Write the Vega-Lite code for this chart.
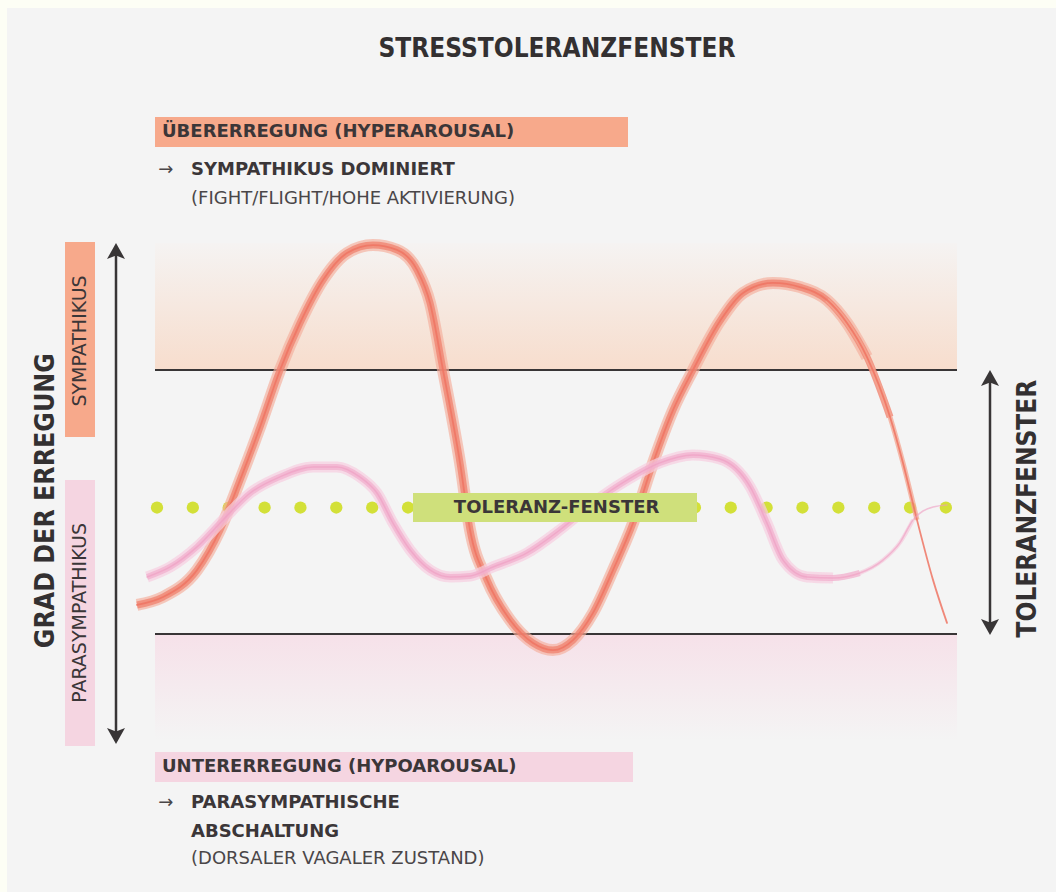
{
  "$schema": "https://vega.github.io/schema/vega-lite/v6.json",
  "width": 1056,
  "height": 892,
  "padding": 0,
  "autosize": {"type": "fit", "contains": "padding"},
  "background": "#fdfef5",
  "config": {"view": {"stroke": null}},
  "datasets": {
    "sympathikus": [
      {"t": -2.25, "a": 11.0}, {"t": 1.0, "a": 14.0}, {"t": 5.25, "a": 24.2}, {"t": 8.13, "a": 39.4},
      {"t": 10.63, "a": 58.3}, {"t": 13.13, "a": 78.4}, {"t": 15.63, "a": 100.0}, {"t": 18.13, "a": 117.8},
      {"t": 21.0, "a": 134.1}, {"t": 24.0, "a": 144.3}, {"t": 27.25, "a": 147.3}, {"t": 30.25, "a": 145.5},
      {"t": 32.75, "a": 137.9}, {"t": 34.38, "a": 125.4}, {"t": 36.0, "a": 100.0}, {"t": 38.13, "a": 64.8},
      {"t": 39.38, "a": 39.4}, {"t": 41.5, "a": 20.5}, {"t": 44.38, "a": 5.3}, {"t": 47.25, "a": -3.4},
      {"t": 49.75, "a": -6.1}, {"t": 52.25, "a": -2.3}, {"t": 54.75, "a": 8.0}, {"t": 57.25, "a": 24.2},
      {"t": 59.75, "a": 42.0}, {"t": 62.25, "a": 64.8}, {"t": 64.75, "a": 84.8}, {"t": 67.25, "a": 100.0},
      {"t": 70.63, "a": 118.6}, {"t": 73.5, "a": 129.2}, {"t": 77.25, "a": 133.0}, {"t": 80.63, "a": 131.4},
      {"t": 84.0, "a": 126.5}, {"t": 86.5, "a": 117.8}, {"t": 89.0, "a": 104.9}, {"t": 91.88, "a": 82.2},
      {"t": 93.5, "a": 64.8}, {"t": 95.25, "a": 43.2}, {"t": 97.25, "a": 20.5}, {"t": 99.0, "a": 4.2}
    ],
    "parasympathikus": [
      {"t": -1.0, "a": 21.6}, {"t": 1.9, "a": 25.4}, {"t": 5.25, "a": 33.0}, {"t": 8.5, "a": 43.2},
      {"t": 11.9, "a": 53.4}, {"t": 15.6, "a": 59.5}, {"t": 19.75, "a": 63.3}, {"t": 22.75, "a": 63.3},
      {"t": 25.6, "a": 59.5}, {"t": 27.75, "a": 53.4}, {"t": 29.75, "a": 42.0}, {"t": 31.9, "a": 31.8},
      {"t": 34.4, "a": 24.2}, {"t": 36.9, "a": 21.6}, {"t": 39.4, "a": 22.0}, {"t": 42.25, "a": 25.4},
      {"t": 46.5, "a": 30.7}, {"t": 50.6, "a": 39.4}, {"t": 54.75, "a": 49.6}, {"t": 59.0, "a": 58.3},
      {"t": 63.1, "a": 64.8}, {"t": 67.25, "a": 67.8}, {"t": 70.6, "a": 66.3}, {"t": 74.4, "a": 55.7},
      {"t": 76.5, "a": 42.0}, {"t": 78.5, "a": 28.0}, {"t": 81.5, "a": 21.6}, {"t": 84.75, "a": 21.2},
      {"t": 88.1, "a": 23.1}, {"t": 91.0, "a": 28.0}, {"t": 93.1, "a": 34.5}, {"t": 94.75, "a": 43.2},
      {"t": 97.25, "a": 48.1}, {"t": 99.0, "a": 48.9}
    ],
    "punkte": [
      {"t": 0.25, "a": 47.9}, {"t": 4.73, "a": 47.9}, {"t": 9.22, "a": 47.9}, {"t": 13.7, "a": 47.9},
      {"t": 18.18, "a": 47.9}, {"t": 22.66, "a": 47.9}, {"t": 27.15, "a": 47.9}, {"t": 31.63, "a": 47.9},
      {"t": 36.11, "a": 47.9}, {"t": 40.59, "a": 47.9}, {"t": 45.08, "a": 47.9}, {"t": 49.56, "a": 47.9},
      {"t": 54.04, "a": 47.9}, {"t": 58.52, "a": 47.9}, {"t": 63.0, "a": 47.9}, {"t": 67.49, "a": 47.9},
      {"t": 71.97, "a": 47.9}, {"t": 76.45, "a": 47.9}, {"t": 80.93, "a": 47.9}, {"t": 85.42, "a": 47.9},
      {"t": 89.9, "a": 47.9}, {"t": 94.38, "a": 47.9}, {"t": 98.86, "a": 47.9}
    ]
  },
  "encoding": {
    "x": {"field": "t", "type": "quantitative", "scale": {"domain": [-19.375, 112.625], "nice": false, "zero": false}, "axis": null},
    "y": {"field": "a", "type": "quantitative", "scale": {"domain": [-97.73, 240.15], "nice": false, "zero": false}, "axis": null}
  },
  "layer": [
    {
      "data": {"values": [{"t": -18.5, "t2": 112.625, "a": 237.1, "a2": -97.73}]},
      "mark": {"type": "rect", "fill": "#f4f4f4"},
      "encoding": {"x2": {"field": "t2"}, "y2": {"field": "a2"}}
    },
    {
      "data": {"values": [{"t": 0, "t2": 100.25, "a": 148.1, "a2": 100}]},
      "mark": {"type": "rect", "fill": {"gradient": "linear", "x1": 0, "y1": 0, "x2": 0, "y2": 1, "stops": [{"offset": 0, "color": "#f5f3f2"}, {"offset": 1, "color": "#f7ddcd"}]}},
      "encoding": {"x2": {"field": "t2"}, "y2": {"field": "a2"}}
    },
    {
      "data": {"values": [{"t": 0, "t2": 100.25, "a": 0, "a2": -40.2}]},
      "mark": {"type": "rect", "fill": {"gradient": "linear", "x1": 0, "y1": 0, "x2": 0, "y2": 1, "stops": [{"offset": 0, "color": "#f6e1e9"}, {"offset": 1, "color": "#f4f4f4"}]}},
      "encoding": {"x2": {"field": "t2"}, "y2": {"field": "a2"}}
    },
    {
      "data": {"values": [{"t": 0, "t2": 100.25, "a": 100}, {"t": 0, "t2": 100.25, "a": 0}]},
      "mark": {"type": "rule", "color": "#383536", "strokeWidth": 2},
      "encoding": {"x2": {"field": "t2"}}
    },
    {
      "data": {"values": [{"t": -4.875, "a": 146.5, "a2": -40.5}, {"t": 104.375, "a": 98.0, "a2": 1.0}]},
      "mark": {"type": "rule", "color": "#383536", "strokeWidth": 2.5},
      "encoding": {"y2": {"field": "a2"}}
    },
    {
      "data": {"values": [{"t": -4.875, "a": 144.3}, {"t": 104.375, "a": 96.2}]},
      "mark": {"type": "point", "filled": true, "opacity": 1, "color": "#383536", "size": 400, "shape": "M0,-1 L0.9,0.6 L0,0.25 L-0.9,0.6 Z"},
      "encoding": {}
    },
    {
      "data": {"values": [{"t": -4.875, "a": -37.9}, {"t": 104.375, "a": 3.4}]},
      "mark": {"type": "point", "filled": true, "opacity": 1, "color": "#383536", "size": 400, "shape": "M0,1 L0.9,-0.6 L0,-0.25 L-0.9,-0.6 Z"},
      "encoding": {}
    },
    {
      "data": {"name": "punkte"},
      "mark": {"type": "circle", "color": "#d3e038", "opacity": 1, "size": 150},
      "encoding": {}
    },
    {
      "data": {"name": "sympathikus"},
      "transform": [{"filter": "datum.t <= 89.0"}],
      "mark": {"type": "line", "interpolate": "monotone", "color": "#f5ad9b", "strokeWidth": 12, "opacity": 0.65, "strokeCap": "butt"},
      "encoding": {}
    },
    {
      "data": {"name": "sympathikus"},
      "transform": [{"filter": "datum.t <= 91.88"}],
      "mark": {"type": "line", "interpolate": "monotone", "color": "#f08472", "strokeWidth": 7, "opacity": 0.8, "strokeCap": "butt"},
      "encoding": {}
    },
    {
      "data": {"name": "sympathikus"},
      "transform": [{"filter": "datum.t >= 84.0 && datum.t <= 95.25"}],
      "mark": {"type": "line", "interpolate": "monotone", "color": "#f4a592", "strokeWidth": 5, "opacity": 0.75, "strokeCap": "butt"},
      "encoding": {}
    },
    {
      "data": {"name": "sympathikus"},
      "mark": {"type": "line", "interpolate": "monotone", "color": "#ee7463", "strokeWidth": 1.8, "opacity": 0.85, "strokeCap": "round"},
      "encoding": {}
    },
    {
      "data": {"name": "parasympathikus"},
      "transform": [{"filter": "datum.t <= 84.75"}],
      "mark": {"type": "line", "interpolate": "monotone", "color": "#f7cde0", "strokeWidth": 11, "opacity": 0.7, "strokeCap": "butt"},
      "encoding": {}
    },
    {
      "data": {"name": "parasympathikus"},
      "transform": [{"filter": "datum.t <= 88.1"}],
      "mark": {"type": "line", "interpolate": "monotone", "color": "#f2afcd", "strokeWidth": 6, "opacity": 0.75, "strokeCap": "butt"},
      "encoding": {}
    },
    {
      "data": {"name": "parasympathikus"},
      "transform": [{"filter": "datum.t >= 81.5 && datum.t <= 94.75"}],
      "mark": {"type": "line", "interpolate": "monotone", "color": "#f5c3d9", "strokeWidth": 4, "opacity": 0.6, "strokeCap": "butt"},
      "encoding": {}
    },
    {
      "data": {"name": "parasympathikus"},
      "mark": {"type": "line", "interpolate": "monotone", "color": "#ee9cc2", "strokeWidth": 1.5, "opacity": 0.6, "strokeCap": "round"},
      "encoding": {}
    },
    {
      "data": {"values": [
        {"t": 0, "t2": 59.125, "a": 195.8, "a2": 184.5, "art": "hyper"},
        {"t": 0, "t2": 59.75, "a": -44.7, "a2": -56.1, "art": "hypo"},
        {"t": -11.25, "t2": -7.5, "a": 148.5, "a2": 74.6, "art": "hyper"},
        {"t": -11.25, "t2": -7.5, "a": 58.3, "a2": -42.4, "art": "hypo"},
        {"t": 32.25, "t2": 67.75, "a": 53.4, "a2": 42.4, "art": "fenster"}
      ]},
      "mark": {"type": "rect"},
      "encoding": {
        "x2": {"field": "t2"},
        "y2": {"field": "a2"},
        "color": {"field": "art", "type": "nominal", "scale": {"domain": ["hyper", "hypo", "fenster"], "range": ["#f7a98b", "#f5d5e1", "#cfe07b"]}, "legend": null}
      }
    },
    {
      "data": {"values": [
        {"t": 0.875, "a": 190.0, "label": "ÜBERERREGUNG (HYPERAROUSAL)"},
        {"t": 0.875, "a": -50.2, "label": "UNTERERREGUNG (HYPOAROUSAL)"}
      ]},
      "mark": {"type": "text", "font": "DejaVu Sans", "fontSize": 18, "fontWeight": "bold", "align": "left", "baseline": "middle", "color": "#3b3638"},
      "encoding": {"text": {"field": "label"}}
    },
    {
      "data": {"values": [
        {"t": 4.5, "a": 175.8, "label": "SYMPATHIKUS DOMINIERT"},
        {"t": 4.5, "a": -64.0, "label": "PARASYMPATHISCHE"},
        {"t": 4.5, "a": -75.0, "label": "ABSCHALTUNG"}
      ]},
      "mark": {"type": "text", "font": "DejaVu Sans", "fontSize": 18, "fontWeight": "bold", "align": "left", "baseline": "middle", "color": "#3b3638"},
      "encoding": {"text": {"field": "label"}}
    },
    {
      "data": {"values": [
        {"t": 0.4, "a": 175.8, "label": "→"},
        {"t": 0.4, "a": -64.0, "label": "→"},
        {"t": 4.5, "a": 164.6, "label": "(FIGHT/FLIGHT/HOHE AKTIVIERUNG)"},
        {"t": 4.5, "a": -85.4, "label": "(DORSALER VAGALER ZUSTAND)"}
      ]},
      "mark": {"type": "text", "font": "DejaVu Sans", "fontSize": 18, "fontWeight": "normal", "align": "left", "baseline": "middle", "color": "#4a4648"},
      "encoding": {"text": {"field": "label"}}
    },
    {
      "data": {"values": [{"t": 50.2, "a": 47.7, "label": "TOLERANZ-FENSTER"}]},
      "mark": {"type": "text", "font": "DejaVu Sans", "fontSize": 18, "fontWeight": "bold", "align": "center", "baseline": "middle", "color": "#3b3638"},
      "encoding": {"text": {"field": "label"}}
    },
    {
      "data": {"values": [
        {"t": -9.375, "a": 111.0, "label": "SYMPATHIKUS"},
        {"t": -9.375, "a": 8.0, "label": "PARASYMPATHIKUS"}
      ]},
      "mark": {"type": "text", "font": "DejaVu Sans", "fontSize": 19, "fontWeight": "normal", "angle": 270, "align": "center", "baseline": "middle", "color": "#3b3638"},
      "encoding": {"text": {"field": "label"}}
    },
    {
      "data": {"values": [{"t": 50.25, "a": 221.5, "label": "STRESSTOLERANZFENSTER"}]},
      "mark": {"type": "text", "font": "DejaVu Sans Condensed", "fontSize": 26, "fontWeight": "bold", "align": "center", "baseline": "middle", "color": "#333031"},
      "encoding": {"text": {"field": "label"}}
    },
    {
      "data": {"values": [
        {"t": -13.6, "a": 50.5, "label": "GRAD DER ERREGUNG"}
      ]},
      "mark": {"type": "text", "font": "DejaVu Sans Condensed", "fontSize": 26.5, "fontWeight": "bold", "angle": 270, "align": "center", "baseline": "middle", "color": "#333031"},
      "encoding": {"text": {"field": "label"}}
    },
    {
      "data": {"values": [
        {"t": 109.1, "a": 47.5, "label": "TOLERANZFENSTER"}
      ]},
      "mark": {"type": "text", "font": "DejaVu Sans Condensed", "fontSize": 26, "fontWeight": "bold", "angle": 270, "align": "center", "baseline": "middle", "color": "#333031"},
      "encoding": {"text": {"field": "label"}}
    }
  ]
}
